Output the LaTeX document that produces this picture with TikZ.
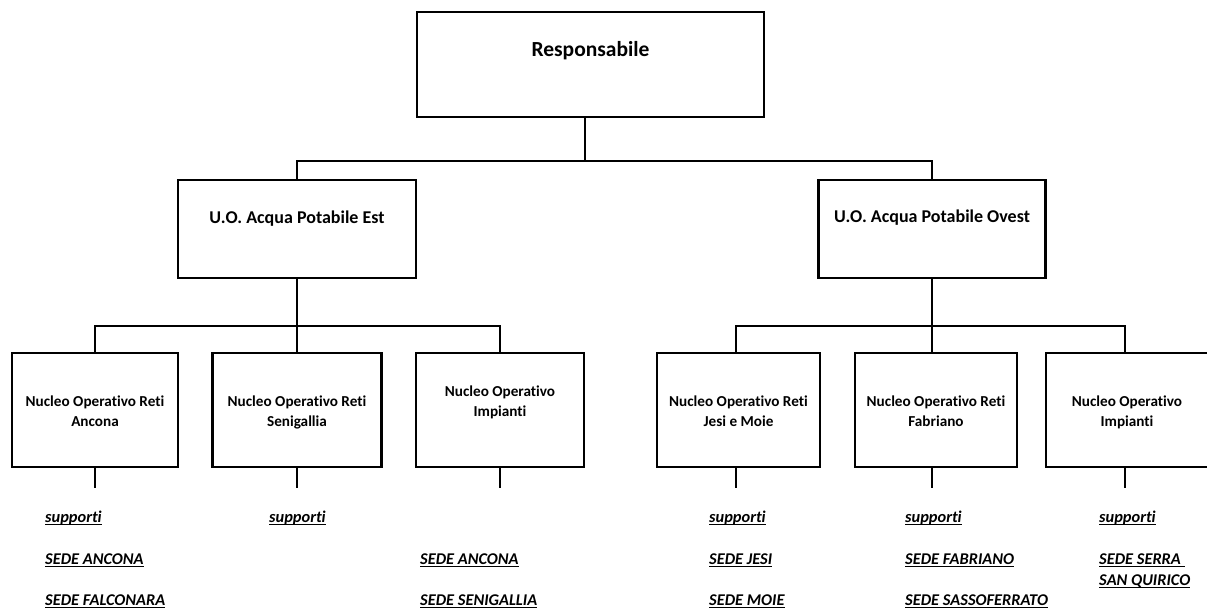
\documentclass[tikz,border=0pt]{standalone}
\usepackage{fontspec}
\setmainfont{Carlito}[Ligatures={NoCommon}]
\newcommand\boxtxt[4]{\parbox[c][#2][t]{#1}{\centering\rule{0pt}{#3}#4\par}}
\newcommand\uln[1]{\setbox0=\hbox{#1}\rlap{\rule[-3pt]{\wd0}{1.2pt}}\box0}
\tikzset{
 orgbox/.style={draw, line width=2.3pt, inner sep=0pt, rectangle},
 conn/.style={line width=2.3pt},
 fR/.style={font=\bfseries\fontsize{21.5}{26}\selectfont},
 fU/.style={font=\bfseries\fontsize{18}{22}\selectfont},
 fN/.style={font=\bfseries\fontsize{15.2}{20}\selectfont},
 item/.style={anchor=base west, inner sep=0pt, font=\bfseries\itshape\fontsize{16.4}{21}\selectfont},
}
\begin{document}
\begin{tikzpicture}[x=1pt,y=-1pt]
\useasboundingbox (0,0) rectangle (1207,609);
% boxes
\node[orgbox,fR] (R) at (590.5,64.5) {\boxtxt{347pt}{105pt}{45pt}{Responsabile}};
\node[orgbox,fU] (E) at (297,229) {\boxtxt{238pt}{98pt}{44pt}{U.O. Acqua Potabile Est}};
\node[orgbox,fU] (O) at (932,229) {\boxtxt{227pt}{98pt}{43pt}{U.O. Acqua Potabile Ovest}};
\node[orgbox,fN] (A) at (95,410) {\boxtxt{166pt}{114pt}{53pt}{Nucleo Operativo Reti\\Ancona}};
\node[orgbox,fN] (S) at (297,410) {\boxtxt{169pt}{114pt}{53pt}{Nucleo Operativo Reti\\Senigallia}};
\node[orgbox,fN] (I1) at (500,410) {\boxtxt{168pt}{114pt}{43pt}{Nucleo Operativo\\Impianti}};
\node[orgbox,fN] (J) at (738.5,410) {\boxtxt{163pt}{114pt}{53pt}{Nucleo Operativo Reti\\Jesi e Moie}};
\node[orgbox,fN] (F) at (936,410) {\boxtxt{162pt}{114pt}{53pt}{Nucleo Operativo Reti\\Fabriano}};
\node[orgbox,fN] (I2) at (1127,410) {\boxtxt{162pt}{114pt}{53pt}{Nucleo Operativo\\Impianti}};
% connectors
\coordinate (hub) at (585,161);
\draw[conn] (R.south -| hub) -- (hub);
\draw[conn] (E.north) |- (hub) -| (O.north);
\coordinate (hubE) at (297,326);
\draw[conn] (E.south) -- (hubE);
\draw[conn] (A.north) |- (hubE) -| (I1.north);
\draw[conn] (hubE) -- (S.north);
\coordinate (hubO) at (932,326);
\draw[conn] (O.south) -- (hubO);
\draw[conn] ([xshift=-2.5pt]J.north) |- (hubO) -| ([xshift=-2pt]I2.north);
\draw[conn] (hubO) -- (F.north -| hubO);
\coordinate (stub) at (0,488);
\draw[conn] (A.south) -- (A.south |- stub);
\draw[conn] (S.south) -- (S.south |- stub);
\draw[conn] (I1.south) -- (I1.south |- stub);
\draw[conn] ([xshift=-2.5pt]J.south) -- ([xshift=-2.5pt]J.south |- stub);
\draw[conn] ([xshift=-4pt]F.south) -- ([xshift=-4pt]F.south |- stub);
\draw[conn] ([xshift=-2pt]I2.south) -- ([xshift=-2pt]I2.south |- stub);
% items
\node[item] (a1) at (45,522) {\uln{supporti}};
\node[item] (a2) at (45,564) {\uln{SEDE ANCONA}};
\node[item] (a3) at (45,605) {\uln{SEDE FALCONARA}};
\node[item] (s1) at (269,522) {\uln{supporti}};
\node[item] (i2) at (420,564) {\uln{SEDE ANCONA}};
\node[item] (i3) at (420,605) {\uln{SEDE SENIGALLIA}};
\node[item] (j1) at (709,522) {\uln{supporti}};
\node[item] (j2) at (709,564) {\uln{SEDE JESI}};
\node[item] (j3) at (709,605) {\uln{SEDE MOIE}};
\node[item] (f1) at (905,522) {\uln{supporti}};
\node[item] (f2) at (905,564) {\uln{SEDE FABRIANO}};
\node[item] (f3) at (905,605) {\uln{SEDE SASSOFERRATO}};
\node[item] (k1) at (1099,522) {\uln{supporti}};
\node[item] (k2) at (1099,564) {\uln{SEDE SERRA\ }};
\node[item] (k3) at (1099,585) {\uln{SAN QUIRICO}};
\end{tikzpicture}
\end{document}
